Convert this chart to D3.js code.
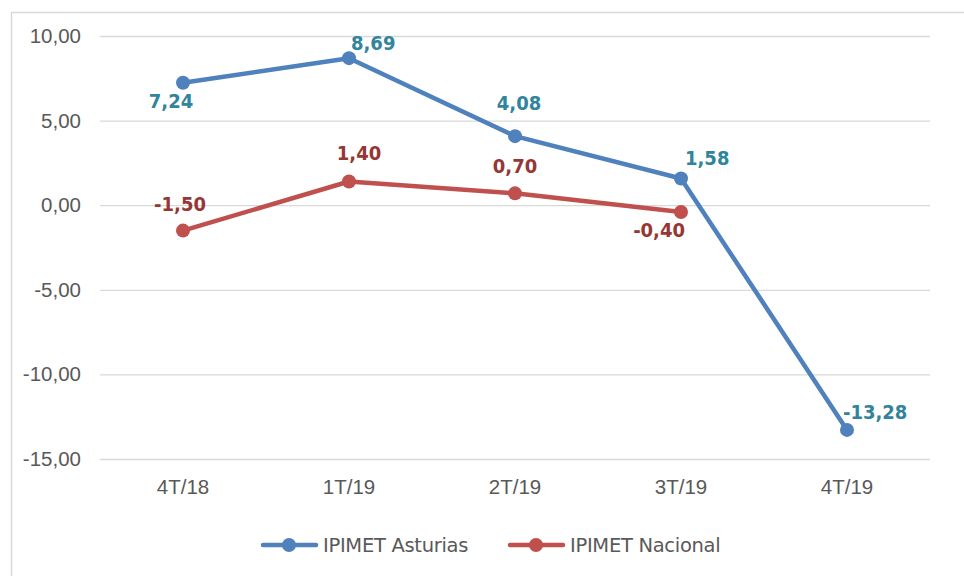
<!DOCTYPE html>
<html>
<head>
<meta charset="utf-8">
<script src="https://cdn.jsdelivr.net/npm/d3@7"></script>
<style>
    body { margin: 0; background: #fff; }
    svg { display: block; font-family: "DejaVu Sans", sans-serif; }
</style>
</head>
<body>
<svg id="chart" width="964" height="576"></svg>
<script>
let categories = ['4T/18', '1T/19', '2T/19', '3T/19', '4T/19'];
let asturias = [7.24, 8.69, 4.08, 1.58, -13.28];
let nacional = [-1.50, 1.40, 0.70, -0.40];
let yTicks = [10, 5, 0, -5, -10, -15];
let seriesNames = ['IPIMET Asturias', 'IPIMET Nacional'];

// label nudges from each point: [dx, dy, anchor]
let asturiasLabelPos = [[-12, 25, 'middle'], [2, -8, 'start'], [4, -26, 'middle'], [4, -13, 'start'], [-4, -11, 'start']];
let nacionalLabelPos = [[-3, -20, 'middle'], [10, -22, 'middle'], [0, -20, 'middle'], [4, 25, 'end']];

let svg = d3.select('#chart'),
    margin = { top: 36, right: 34, bottom: 117, left: 100 },
    width = 964 - margin.left - margin.right,
    height = 576 - margin.top - margin.bottom,
    fmt = function(d) { return d.toFixed(2).replace('.', ','); };

// outer border
svg.append('rect')
    .attr('x', 11.5)
    .attr('y', 12.5)
    .attr('width', 964)
    .attr('height', 600)
    .attr('fill', 'none')
    .attr('stroke', '#d9d9d9')
    .attr('stroke-width', 1.5);

let g = svg.append('g')
    .attr('transform', 'translate(' + margin.left + ',' + margin.top + ')');

let scaleX = d3.scaleBand()
    .domain(categories)
    .range([0, width]);

let scaleY = d3.scaleLinear()
    .domain([-15, 10])
    .range([height, 0]);

// gridlines + y labels
let yAxis = d3.axisLeft(scaleY)
    .tickValues(yTicks)
    .tickSize(-width)
    .tickFormat(fmt);

g.append('g')
    .attr('class', 'y-axis')
    .call(yAxis)
    .call(function(a) {
        a.select('.domain').remove();
        a.selectAll('.tick line').attr('stroke', '#d9d9d9').attr('stroke-width', 1.3);
        a.selectAll('.tick text')
            .attr('x', -19)
            .attr('fill', '#595959')
            .style('font-size', '20.5px');
    });

// x labels
let xAxis = d3.axisBottom(scaleX).tickSize(0);
g.append('g')
    .attr('transform', 'translate(0,' + height + ')')
    .call(xAxis)
    .call(function(a) {
        a.select('.domain').remove();
        a.selectAll('.tick text')
            .attr('dy', 0)
            .attr('y', 35)
            .attr('fill', '#595959')
            .style('font-size', '20.5px');
    });

function px(k) { return scaleX(categories[k]) + scaleX.bandwidth() / 2; }

let line = d3.line()
    .x(function(d, k) { return px(k); })
    .y(function(d) { return scaleY(d); });

function drawSeries(values, lineColor, labelColor, pos) {
    g.append('path')
        .datum(values)
        .attr('d', line)
        .attr('fill', 'none')
        .attr('stroke', lineColor)
        .attr('stroke-width', 4.5)
        .attr('stroke-linejoin', 'round');

    g.append('g').selectAll('circle')
        .data(values)
        .enter()
        .append('circle')
        .attr('cx', function(d, k) { return px(k); })
        .attr('cy', function(d) { return scaleY(d); })
        .attr('r', 7)
        .attr('fill', lineColor);

    g.append('g').selectAll('text')
        .data(values)
        .enter()
        .append('text')
        .attr('x', function(d, k) { return px(k) + pos[k][0]; })
        .attr('y', function(d, k) { return scaleY(d) + pos[k][1]; })
        .attr('text-anchor', function(d, k) { return pos[k][2]; })
        .attr('fill', labelColor)
        .style('font-family', '"DejaVu Sans Condensed", "DejaVu Sans", sans-serif')
        .style('font-size', '20px')
        .style('font-weight', 'bold')
        .text(fmt);
}

drawSeries(asturias, '#4f81bd', '#31849b', asturiasLabelPos);
drawSeries(nacional, '#c0504d', '#953735', nacionalLabelPos);

// legend
let legend = svg.append('g').attr('transform', 'translate(0,545)');
let legendItems = [
    { name: seriesNames[0], color: '#4f81bd', x: 263 },
    { name: seriesNames[1], color: '#c0504d', x: 510 }
];
legendItems.forEach(function(it) {
    legend.append('line')
        .attr('x1', it.x).attr('x2', it.x + 53)
        .attr('y1', 0).attr('y2', 0)
        .attr('stroke', it.color)
        .attr('stroke-width', 4.5)
        .attr('stroke-linecap', 'round');
    legend.append('circle')
        .attr('cx', it.x + 26).attr('cy', 0)
        .attr('r', 7)
        .attr('fill', it.color);
    legend.append('text')
        .attr('x', it.x + 60)
        .attr('y', 0)
        .attr('dy', '0.36em')
        .attr('fill', '#595959')
        .style('font-size', '19.5px')
        .style('letter-spacing', '-0.3px')
        .text(it.name);
});
</script>
</body>
</html>
